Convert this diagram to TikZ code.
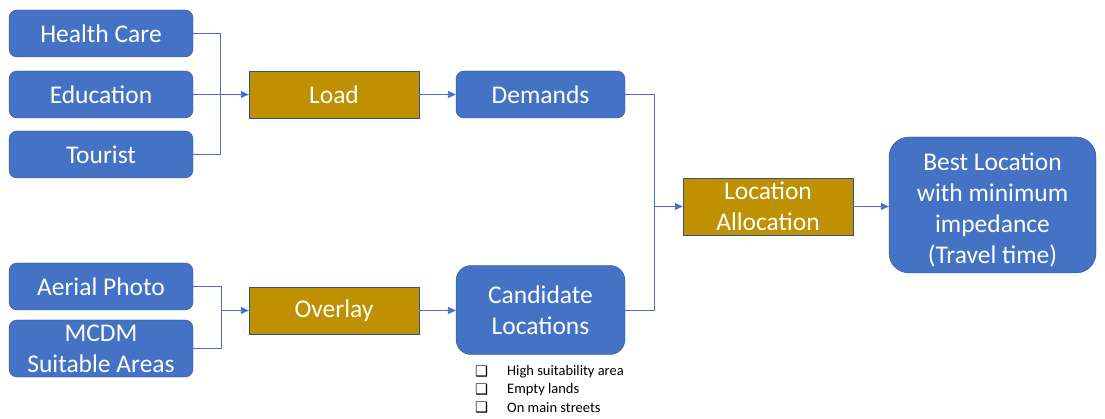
\documentclass[tikz,border=0pt]{standalone}
\usepackage{fontspec}
\setmainfont{Carlito}
\newfontfamily\symfont{DejaVu Sans}
\usetikzlibrary{arrows.meta}

\definecolor{boxblue}{HTML}{4472C4}
\definecolor{edgeblue}{HTML}{2F528F}
\definecolor{gold}{HTML}{BF9000}

\tikzset{
  box/.style={draw=edgeblue, fill=boxblue, text=white, rounded corners=8pt,
    minimum width=184pt, minimum height=47pt, inner sep=0pt, align=center,
    font=\fontsize{25.5}{31}\selectfont},
  task/.style={box, fill=gold, rounded corners=0pt, minimum width=170pt},
  link/.style={draw=boxblue, line width=0.9pt},
  arrow/.style={link, -{Triangle[length=8pt,width=7pt]}},
  item/.style={anchor=west, inner sep=0pt, font=\fontsize{14.5}{16}\selectfont},
}

\begin{document}
\begin{tikzpicture}[x=1pt,y=-1pt]
  \useasboundingbox (0,0) rectangle (1105,419);

  % inputs
  \node[box] (care) at (101,33.5) {Health Care};
  \node[box] (edu)  at (101,94.5) {Education};
  \node[box] (tour) at (101,154.5) {Tourist};
  \node[box] (aer)  at (101,286.5) {Aerial Photo};
  \node[box, minimum height=57pt] (mcdm) at (101,348.5) {MCDM\\Suitable Areas};

  % processing steps
  \node[task] (load) at (334,94.5) {Load};
  \node[task] (ovl)  at (334,310.5) {Overlay};
  \node[task, minimum height=57pt] (alloc) at (768,206.5) {Location\\Allocation};

  % results
  \node[box, minimum width=169pt] (dem) at (540.5,94.5) {Demands};
  \node[box, minimum width=169pt, minimum height=89pt, rounded corners=15pt] (cand) at (540.5,310) {Candidate\\Locations};
  \node[box, minimum width=207pt, minimum height=136pt, rounded corners=20pt,
    text height=120pt] (best) at (992.5,205) {Best Location\\with minimum\\impedance\\(Travel time)};

  % junction points
  \coordinate (j1) at (220,94.5);
  \coordinate (j2) at (221,310.5);
  \coordinate (j3) at (654,206.5);

  \draw[link] (care.east) -| (j1);
  \draw[link] (tour.east) -| (j1);
  \draw[arrow] (edu.east) -- (load.west);
  \draw[arrow] (load.east) -- (dem.west);

  \draw[link] (aer.east) -| (j2);
  \draw[link] (mcdm.east) -| (j2);
  \draw[arrow] (j2) -- (ovl.west);
  \draw[arrow] (ovl.east) -- (ovl.east -| cand.west);

  \draw[link] (dem.east) -| (j3);
  \draw[link] (cand.east) -| (j3);
  \draw[arrow] (j3) -- (alloc.west);
  \draw[arrow] (alloc.east) -- (alloc.east -| best.west);

  % criteria list under the candidates
  \node[item] (c1) at (475,372) {\symfont ❑};
  \node[item] (c2) at (475,390) {\symfont ❑};
  \node[item] (c3) at (475,408) {\symfont ❑};
  \node[item] (t1) at (507,372) {High suitability area};
  \node[item] (t2) at (507,390) {Empty lands};
  \node[item] (t3) at (507,408) {On main streets};
\end{tikzpicture}
\end{document}
